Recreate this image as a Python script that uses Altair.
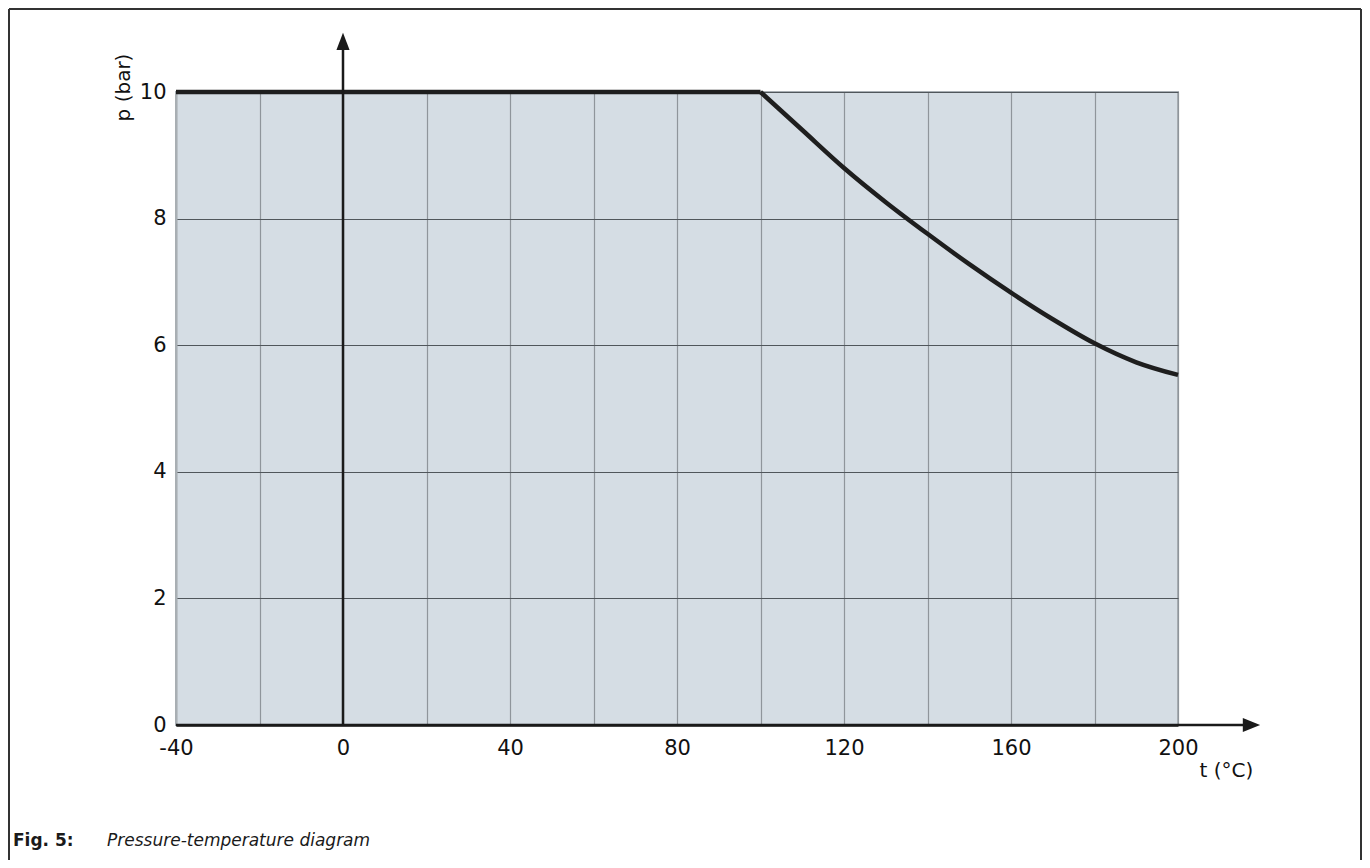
import altair as alt
import pandas as pd

# ---------------- data ----------------
flat_t = [-40, 100]
flat_p = [10, 10]
curve_t = [100, 110, 120, 130, 140, 150, 160, 170, 180, 190, 200]
curve_p = [10.0, 9.40, 8.80, 8.26, 7.76, 7.28, 6.83, 6.41, 6.03, 5.73, 5.53]
x_ticks = [-40, -20, 0, 20, 40, 60, 80, 100, 120, 140, 160, 180, 200]
y_ticks = [0, 2, 4, 6, 8, 10]
x_domain = [-40, 200]
y_domain = [0, 10]
x_arrow_end = 217.6
y_arrow_end = 10.8
x_title = "t (°C)"
y_title = "p (bar)"
caption_num = "Fig. 5:"
caption_text = "Pressure-temperature diagram"

FONT = "DejaVu Sans"
W, H = 1002, 633

xs = alt.Scale(domain=x_domain, nice=False, zero=False)
ys = alt.Scale(domain=y_domain, nice=False, zero=False)

flat_df = pd.DataFrame({"t": flat_t, "p": flat_p})
curve_df = pd.DataFrame({"t": curve_t, "p": curve_p})

x_axis = alt.Axis(
    values=x_ticks,
    labelExpr="datum.value % 40 == 0 ? '' + datum.value : ''",
    grid=True, gridColor="#8f959b", gridWidth=1.2,
    ticks=False, domainColor="#1a1a1a", domainWidth=2.5,
    labelFont=FONT, labelFontSize=21, labelColor="#111", labelPadding=12,
    labelOverlap=False, labelFlush=False, labelBound=False,
    titleFont=FONT, titleFontSize=20, titleFontWeight="normal",
    titleColor="#111", titleX=1050, titleY=45, titleAlign="center", titleBaseline="middle",
)
y_axis = alt.Axis(
    values=y_ticks,
    labelExpr="'' + datum.value",
    grid=True, gridColor="#50565b", gridWidth=1.2,
    ticks=False, domainColor="#a9afb4", domainWidth=2,
    labelFont=FONT, labelFontSize=21, labelColor="#111", labelPadding=10,
    labelOverlap=False, labelBound=False, labelFlush=False,
    titleFont=FONT, titleFontSize=20, titleFontWeight="normal",
    titleColor="#111", titleX=-53, titleY=-5, titleAngle=-90,
    titleAlign="center", titleBaseline="middle",
)

flat = alt.Chart(flat_df).mark_line(color="#1e1e1e", strokeWidth=4.5, strokeCap="butt").encode(
    x=alt.X("t:Q", scale=xs, axis=x_axis, title=x_title),
    y=alt.Y("p:Q", scale=ys, axis=y_axis, title=y_title),
)

curve = alt.Chart(curve_df).mark_line(color="#1e1e1e", strokeWidth=4.5, interpolate="monotone").encode(
    x=alt.X("t:Q", scale=xs, title=x_title),
    y=alt.Y("p:Q", scale=ys, title=y_title),
)

# axes drawn as arrows
yaxis_df = pd.DataFrame({"t": [0], "p0": [y_domain[0]], "p1": [y_arrow_end]})
yaxis_rule = alt.Chart(yaxis_df).mark_rule(color="#1a1a1a", strokeWidth=2.5).encode(
    x=alt.X("t:Q", scale=xs, title=x_title),
    y=alt.Y("p0:Q", scale=ys, title=y_title),
    y2="p1:Q",
)
yaxis_head = alt.Chart(yaxis_df).mark_point(
    shape="M-0.76,1L0,-1L0.76,1Z", size=300, filled=True, color="#1a1a1a", opacity=1
).encode(
    x=alt.X("t:Q", scale=xs, title=x_title),
    y=alt.Y("p1:Q", scale=ys, title=y_title),
)

xaxis_df = pd.DataFrame({"t0": [x_domain[0]], "t1": [x_arrow_end], "p": [0]})
xaxis_rule = alt.Chart(xaxis_df).mark_rule(color="#1a1a1a", strokeWidth=2.5).encode(
    x=alt.X("t0:Q", scale=xs, title=x_title),
    x2="t1:Q",
    y=alt.Y("p:Q", scale=ys, title=y_title),
)
xaxis_head = alt.Chart(xaxis_df).mark_point(
    shape="M-1,-0.82L1,0L-1,0.82Z", size=300, filled=True, color="#1a1a1a", opacity=1
).encode(
    x=alt.X("t1:Q", scale=xs, title=x_title),
    y=alt.Y("p:Q", scale=ys, title=y_title),
)

# caption and frame
cap1 = alt.Chart(pd.DataFrame({"s": [caption_num]})).mark_text(
    font=FONT, fontSize=17, fontWeight="bold", align="left", baseline="alphabetic", color="#1a1a1a"
).encode(x=alt.value(-163), y=alt.value(754), text="s:N")
cap2 = alt.Chart(pd.DataFrame({"s": [caption_text]})).mark_text(
    font=FONT, fontSize=17, fontStyle="italic", align="left", baseline="alphabetic", color="#1a1a1a"
).encode(x=alt.value(-69), y=alt.value(754), text="s:N")

one = pd.DataFrame({"k": [0]})
frame_top = alt.Chart(one).mark_rule(color="#333", strokeWidth=2).encode(
    x=alt.value(-167), x2=alt.value(1185), y=alt.value(-83))
frame_left = alt.Chart(one).mark_rule(color="#333", strokeWidth=2).encode(
    x=alt.value(-167), y=alt.value(-83), y2=alt.value(770))
frame_right = alt.Chart(one).mark_rule(color="#333", strokeWidth=2).encode(
    x=alt.value(1185), y=alt.value(-83), y2=alt.value(770))

chart = alt.layer(
    flat, curve, yaxis_rule, yaxis_head, xaxis_rule, xaxis_head,
    cap1, cap2, frame_top, frame_left, frame_right,
).properties(
    width=W, height=H,
    padding={"left": 168, "top": 84, "right": 184, "bottom": 135},
    autosize=alt.AutoSizeParams(type="none"),
    background="white",
).configure_view(
    fill="#d5dde4", stroke="#a9afb4", strokeWidth=2
)

chart.save("out.html", embed_options={"renderer": "svg", "actions": False})
